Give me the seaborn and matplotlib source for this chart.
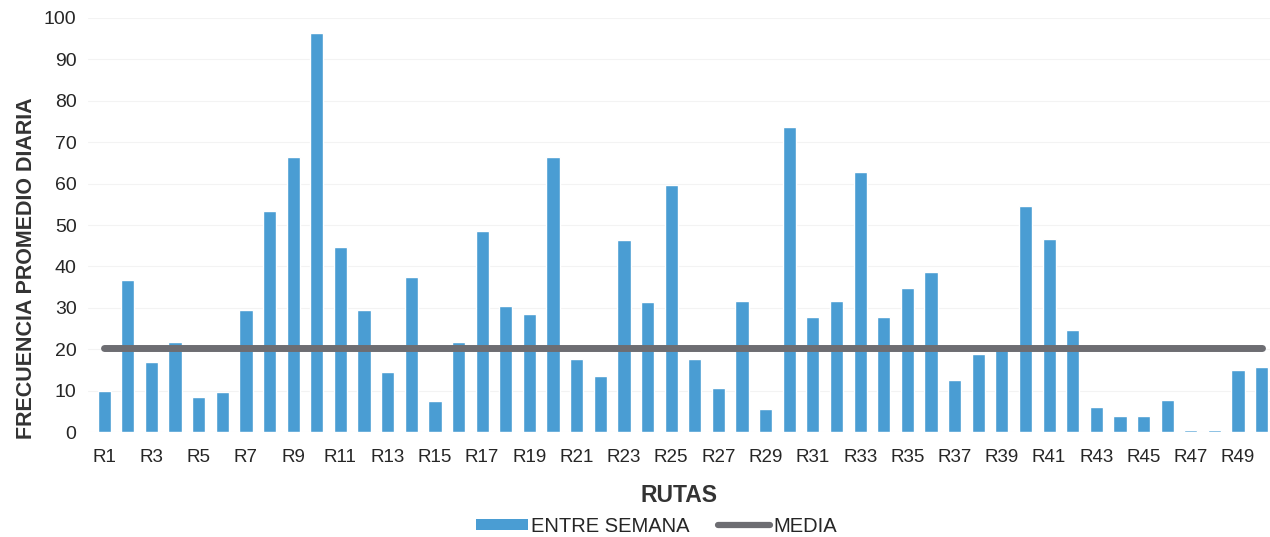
import numpy as np
import pandas as pd
import seaborn as sns
import matplotlib
matplotlib.use("Agg")
import matplotlib.pyplot as plt
from matplotlib.lines import Line2D
from matplotlib.patches import Patch

# valores
rutas = ["R%d" % i for i in range(1, 51)]
entre_semana = [10, 36.7, 16.9, 21.7, 8.5, 9.6, 29.5, 53.4, 66.4, 96.4,
                44.6, 29.5, 14.5, 37.4, 7.6, 21.7, 48.6, 30.4, 28.5, 66.4,
                17.6, 13.5, 46.4, 31.4, 59.6, 17.6, 10.6, 31.6, 5.6, 73.7,
                27.8, 31.6, 62.8, 27.8, 34.8, 38.6, 12.6, 18.8, 20.5, 54.6,
                46.6, 24.6, 6.0, 3.9, 3.9, 7.7, 0.5, 0.5, 15.0, 15.7]
media_valor = 20.2
media = [media_valor] * len(rutas)

etiquetas_x = [r if i % 2 == 0 else "" for i, r in enumerate(rutas)]

df = pd.DataFrame({"ruta": rutas, "entre_semana": entre_semana, "media": media})

sns.set_theme(style="white")
plt.rcParams['font.family'] = ['Liberation Sans', 'DejaVu Sans']

azul = "#4a9dd3"
gris = "#6d6d72"
texto = "#262626"

fig = plt.figure(figsize=(12.7, 5.37), dpi=100)
ax = fig.add_axes([0.069, 0.1955, 0.931, 0.771])

sns.barplot(data=df, x="ruta", y="entre_semana", color=azul, width=0.56,
            saturation=1, ax=ax)
sns.lineplot(x=np.arange(len(rutas)), y=df["media"], color=gris, linewidth=5,
             ax=ax)

ax.set_xlim(-0.7, 49.35)
ax.set_ylim(0, 100)
ax.set_yticks(range(0, 101, 10))
ax.set_xticks(range(len(rutas)))
ax.set_xticklabels(etiquetas_x)
ax.tick_params(axis="y", length=0, labelsize=14, colors=texto, pad=8)
ax.tick_params(axis="x", length=0, labelsize=13.5, colors=texto, pad=12)
ax.grid(axis="y", color="#f3f3f3", linewidth=0.8)
ax.set_axisbelow(True)
for s in ax.spines.values():
    s.set_visible(False)

ax.set_xlabel("RUTAS", fontsize=16.5, fontweight="bold", color="#333333",
              labelpad=13)
ax.set_ylabel("FRECUENCIA PROMEDIO DIARIA", fontsize=15.5, fontweight="bold",
              color="#333333")
ax.yaxis.set_label_coords(-0.043, 0.396)

handles = [Patch(facecolor=azul, edgecolor="none"),
           Line2D([0], [0], color=gris, linewidth=4.5)]
fig.legend(handles, ["ENTRE SEMANA", "MEDIA"], loc="center",
           bbox_to_anchor=(0.517, 0.02), ncol=2, frameon=False, fontsize=14.5,
           handlelength=2.6, handleheight=0.5, handletextpad=0.15,
           columnspacing=1.4, borderpad=0)

fig.savefig("out.png", dpi=100)
